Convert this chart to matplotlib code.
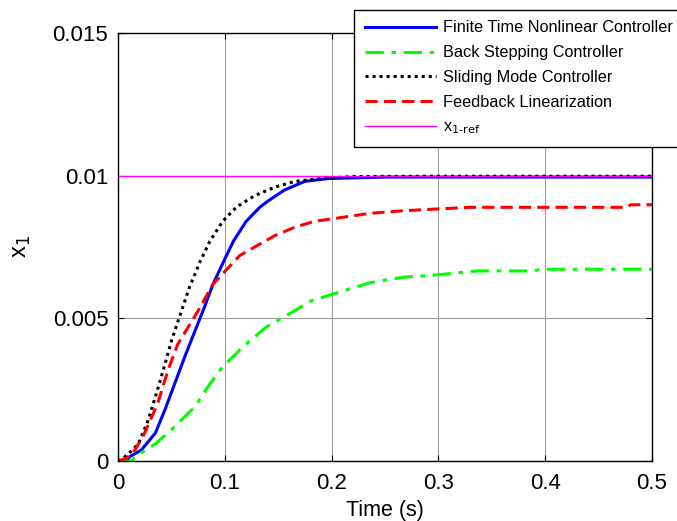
import matplotlib.pyplot as plt
import numpy as np

plt.rcParams['font.family'] = ['Liberation Sans', 'DejaVu Sans']

# readings from the picture (time in s, x1)
t_ftnc = [0, 0.008, 0.011, 0.022, 0.035, 0.044, 0.053, 0.063, 0.072, 0.080, 0.089, 0.099,
          0.108, 0.12, 0.133, 0.14, 0.156, 0.175, 0.197, 0.25, 0.3, 0.4, 0.5]
x_ftnc = [0, 0, 0.00015, 0.00039, 0.00098, 0.0018, 0.0027, 0.0037, 0.00455, 0.0053, 0.0062, 0.0070,
          0.0077, 0.0084, 0.0089, 0.0091, 0.0095, 0.0098, 0.0099, 0.00995, 0.00995, 0.00995, 0.00995]

t_bs = [0, 0.013, 0.016, 0.035, 0.053, 0.072, 0.086, 0.098, 0.117, 0.139, 0.158, 0.18,
        0.214, 0.236, 0.267, 0.298, 0.336, 0.39, 0.395, 0.5]
x_bs = [0, 0, 0.00015, 0.0006, 0.0012, 0.0019, 0.0027, 0.0033, 0.0040, 0.0047, 0.0051, 0.0056,
        0.0060, 0.00625, 0.00644, 0.00652, 0.00666, 0.00666, 0.00672, 0.00672]

t_smc = [0, 0.005, 0.011, 0.019, 0.028, 0.037, 0.044, 0.05, 0.058, 0.067, 0.077, 0.086,
         0.098, 0.111, 0.128, 0.147, 0.166, 0.191, 0.22, 0.3, 0.5]
x_smc = [0, 0.0001, 0.0003, 0.0006, 0.0014, 0.0025, 0.0034, 0.0042, 0.0051, 0.0061, 0.0070, 0.0077,
         0.0084, 0.0089, 0.0093, 0.0096, 0.0098, 0.0099, 0.00997, 0.00998, 0.00998]

t_fl = [0, 0.008, 0.016, 0.025, 0.037, 0.047, 0.056, 0.074, 0.089, 0.099, 0.114, 0.128,
        0.147, 0.166, 0.184, 0.203, 0.236, 0.267, 0.298, 0.33, 0.476, 0.48, 0.5]
x_fl = [0, 0.0001, 0.00039, 0.00098, 0.0020, 0.0032, 0.0041, 0.0052, 0.0062, 0.0066, 0.0072, 0.0075,
        0.0079, 0.0082, 0.0084, 0.0085, 0.00868, 0.00877, 0.00883, 0.00889, 0.00889, 0.00898, 0.00898]

t_ref = [0, 0.5]
x_ref = [0.01, 0.01]

labels = ['Finite Time Nonlinear Controller', 'Back Stepping Controller',
          'Sliding Mode Controller', 'Feedback Linearization', 'x$_{\\mathrm{1\u2010ref}}$']

fig = plt.figure(figsize=(6.77, 5.21), dpi=100)
ax = fig.add_axes([0.1743, 0.1152, 0.7888, 0.8215])

ax.plot(t_ftnc, x_ftnc, color='#0000ff', lw=2.2, label=labels[0])
ax.plot(t_bs, x_bs, color='#00ff00', lw=2.2, ls=(0, (6, 2.5, 1.5, 2.5)), label=labels[1])
ax.plot(t_smc, x_smc, color='black', lw=2.2, ls=(0, (1, 1.3)), label=labels[2])
ax.plot(t_fl, x_fl, color='#ff0000', lw=2.2, ls=(0, (4, 2)), label=labels[3])
ax.plot(t_ref, x_ref, color='#ff00ff', lw=1, label=labels[4])

ax.set_xlim(0, 0.5)
ax.set_ylim(0, 0.015)
ax.set_xticks([0, 0.1, 0.2, 0.3, 0.4, 0.5])
ax.set_xticklabels(['0', '0.1', '0.2', '0.3', '0.4', '0.5'])
ax.set_yticks([0, 0.005, 0.01, 0.015])
ax.set_yticklabels(['0', '0.005', '0.01', '0.015'])
ax.tick_params(direction='in', top=True, right=True, labelsize=16, length=4)
ax.tick_params(axis='x', pad=9)
ax.tick_params(axis='y', pad=7)
ax.grid(True, color='#a0a0a0', lw=0.8)
for s in ax.spines.values():
    s.set_linewidth(1.0)

ax.set_xlabel('Time (s)', fontsize=15.5, labelpad=4)
ax.set_ylabel('x$_1$', fontsize=17, labelpad=14)

leg = fig.legend(loc='upper left', bbox_to_anchor=(0.523, 0.981), fontsize=11.7,
                 frameon=True, fancybox=False, edgecolor='black', framealpha=1,
                 handlelength=4.4, handletextpad=0.45, borderpad=0.65,
                 labelspacing=0.6, borderaxespad=0)
leg.get_frame().set_linewidth(1.0)

fig.savefig('out.png', dpi=100)
